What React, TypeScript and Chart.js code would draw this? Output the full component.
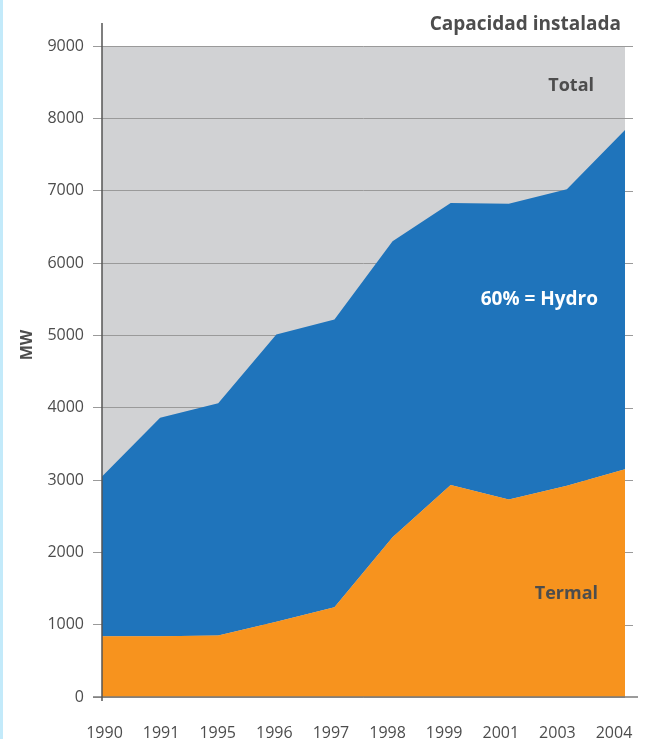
import React, { useEffect, useRef } from "react";
import { Chart, registerables } from "chart.js";

Chart.register(...registerables);

const years = ["1990", "1991", "1995", "1996", "1997", "1998", "1999", "2001", "2003", "2004"];
const termal = [840, 840, 850, 1040, 1240, 2210, 2930, 2730, 2920, 3150];
const total = [3050, 3860, 4060, 5010, 5220, 6300, 6830, 6820, 7020, 7840];
const yTicks = [0, 1000, 2000, 3000, 4000, 5000, 6000, 7000, 8000, 9000];

const FONT = "'Open Sans', 'Noto Sans', sans-serif";
const TEXT = "#4d4d4d";

const decorPlugin = {
  id: "decor",
  beforeDraw(chart: any) {
    const { ctx, chartArea } = chart;
    ctx.save();
    ctx.fillStyle = "#d1d2d4";
    ctx.fillRect(chartArea.left, chartArea.top, chartArea.right - chartArea.left, chartArea.bottom - chartArea.top);
    ctx.restore();
  },
  afterDraw(chart: any) {
    const { ctx, chartArea } = chart;
    const y = chart.scales.y;
    ctx.save();
    ctx.strokeStyle = "#9a9a9a";
    ctx.lineWidth = 1;
    y.ticks.forEach((t: any) => {
      if (t.value === 0) return;
      const py = Math.round(y.getPixelForValue(t.value)) + 0.5;
      ctx.beginPath();
      ctx.moveTo(chartArea.right, py);
      ctx.lineTo(chartArea.right + 8, py);
      ctx.stroke();
    });
    ctx.strokeStyle = "#7a7a7a";
    ctx.lineWidth = 1.5;
    const p0 = y.getPixelForValue(0);
    ctx.beginPath();
    ctx.moveTo(chartArea.left - 9, p0);
    ctx.lineTo(chartArea.right + 13, p0);
    ctx.stroke();
    ctx.strokeStyle = "#555555";
    ctx.lineWidth = 1.5;
    ctx.beginPath();
    ctx.moveTo(chartArea.left, chartArea.top - 23);
    ctx.lineTo(chartArea.left, chartArea.bottom + 4);
    ctx.stroke();

    ctx.textBaseline = "middle";
    ctx.fillStyle = TEXT;
    ctx.textAlign = "right";
    ctx.font = `bold 19px ${FONT}`;
    ctx.fillText("Capacidad instalada", 621, 25);
    ctx.font = `bold 18px ${FONT}`;
    ctx.fillText("Total", 594, 86);
    ctx.fillText("Termal", 598, 594);
    ctx.fillStyle = "#ffffff";
    ctx.font = `bold 19px ${FONT}`;
    ctx.fillText("60% = Hydro", 598, 300);

    ctx.fillStyle = TEXT;
    ctx.translate(27, 345);
    ctx.rotate(-Math.PI / 2);
    ctx.textAlign = "center";
    ctx.font = `bold 16px ${FONT}`;
    ctx.fillText("MW", 0, 0);
    ctx.restore();
  },
};

function ChartView() {
  const ref = useRef<HTMLCanvasElement | null>(null);
  useEffect(() => {
    if (!ref.current) return;
    const chart = new Chart(ref.current, {
      type: "line",
      data: {
        labels: years,
        datasets: [
          {
            label: "Termal",
            data: termal,
            backgroundColor: "#f7931e",
            borderWidth: 0,
            pointRadius: 0,
            fill: "origin",
            xAxisID: "x",
          },
          {
            label: "Total",
            data: total,
            backgroundColor: "#1f74bb",
            borderWidth: 0,
            pointRadius: 0,
            fill: "-1",
            xAxisID: "x",
          },
        ],
      },
      options: {
        animation: false,
        responsive: false,
        maintainAspectRatio: false,
        layout: { padding: { top: 46, right: 22, left: 0, bottom: 0 } },
        plugins: { legend: { display: false }, tooltip: { enabled: false } },
        scales: {
          x: {
            type: "category",
            display: false,
            offset: false,
          },
          xl: {
            type: "linear",
            position: "bottom",
            min: -0.0442,
            max: 9.1943,
            afterFit: (s: any) => {
              s.height = 42;
              s.paddingLeft = 0;
              s.paddingRight = 0;
            },
            grid: { display: false, drawTicks: false },
            border: { display: false },
            ticks: {
              stepSize: 1,
              includeBounds: false,
              padding: 27,
              color: TEXT,
              font: { family: FONT, size: 16 },
              callback: (v: any) => years[Math.round(v)] ?? "",
            },
          },
          y: {
            min: 0,
            max: 9000,
            z: 1,
            afterFit: (s: any) => {
              s.width = 102;
              s.paddingTop = 0;
              s.paddingBottom = 0;
            },
            afterBuildTicks: (s: any) => {
              s.ticks = yTicks.map((v) => ({ value: v }));
            },
            grid: { color: "#9a9a9a", lineWidth: 1, tickLength: 9, tickColor: "#9a9a9a" },
            border: { display: false },
            ticks: {
              padding: 9,
              color: TEXT,
              font: { family: FONT, size: 16 },
              callback: (v: any) => String(v),
            },
          },
        },
      },
      plugins: [decorPlugin],
    } as any);
    return () => chart.destroy();
  }, []);
  return <canvas ref={ref} width={647} height={739} style={{ display: "block" }} />;
}

export default function App() {
  return (
    <div style={{ position: "absolute", left: 0, top: 0, width: 647, height: 739, background: "#fff" }}>
      <div style={{ position: "absolute", left: 0, top: 0, width: 3, height: 739, background: "#c3eafa" }} />
      <ChartView />
    </div>
  );
}
